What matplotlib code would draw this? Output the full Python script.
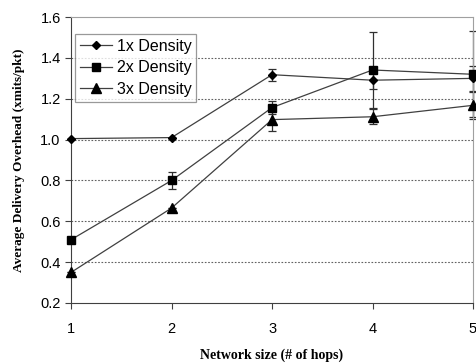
import matplotlib.pyplot as plt

plt.rcParams['font.family'] = ['Liberation Sans', 'DejaVu Sans']

hops = [1, 2, 3, 4, 5]
series_names = ['1x Density', '2x Density', '3x Density']
d1 = [1.005, 1.01, 1.318, 1.291, 1.30]
d2 = [0.51, 0.80, 1.157, 1.341, 1.32]
d3 = [0.35, 0.665, 1.098, 1.112, 1.168]
e1 = [0.0, 0.0, 0.03, 0.044, 0.06]
e2 = [0.0, 0.04, 0.03, 0.185, 0.21]
e3 = [0.0, 0.0, 0.055, 0.037, 0.065]
y_ticks = [0.2, 0.4, 0.6, 0.8, 1.0, 1.2, 1.4, 1.6]

fig = plt.figure(figsize=(4.77, 3.64), dpi=100)
ax = fig.add_axes([0.149, 0.1676, 0.8426, 0.7854])

markers = ['D', 's', '^']
msizes = [4.5, 6, 6.5]
for vals, errs, name, m, ms in zip([d1, d2, d3], [e1, e2, e3], series_names, markers, msizes):
    ax.errorbar(hops, vals, yerr=errs, fmt='none', ecolor='#303030', elinewidth=0.9,
                capsize=3, capthick=0.9, clip_on=False, zorder=2)
    ax.plot(hops, vals, color='#404040', lw=0.9, marker=m, ms=ms, mfc='black',
            mec='black', label=name, clip_on=False, zorder=3)

ax.set_xlim(1, 5)
ax.set_ylim(0.2, 1.6)
ax.set_xticks(hops)
ax.set_yticks(y_ticks)
ax.set_yticklabels([f'{v:.1f}' for v in y_ticks])
ax.tick_params(labelsize=10.5, length=4, width=0.8, color='#404040')
ax.tick_params(axis='x', pad=10)

for v in y_ticks[1:-1]:
    ax.axhline(v, color='#606060', lw=0.8, ls=(0, (1.5, 1.5)), zorder=1)

ax.spines['left'].set_color('#404040')
ax.spines['bottom'].set_color('#404040')
ax.spines['top'].set_color('#a0a0a0')
ax.spines['right'].set_color('#a0a0a0')

ax.set_xlabel('Network size (# of hops)', family='Liberation Serif',
              fontweight='bold', fontsize=10, labelpad=9)
ax.set_ylabel('Average Delivery Overhead (xmits/pkt)', family='Liberation Serif',
              fontweight='bold', fontsize=9.5, labelpad=11)

leg = ax.legend(loc='upper left', bbox_to_anchor=(0.01, 0.94), fontsize=11.5,
                frameon=True, fancybox=False, edgecolor='#808080',
                handlelength=2.0, handletextpad=0.3, borderpad=0.3,
                labelspacing=0.4, borderaxespad=0.0)
leg.get_frame().set_linewidth(0.9)

fig.savefig('out.png', dpi=100)
